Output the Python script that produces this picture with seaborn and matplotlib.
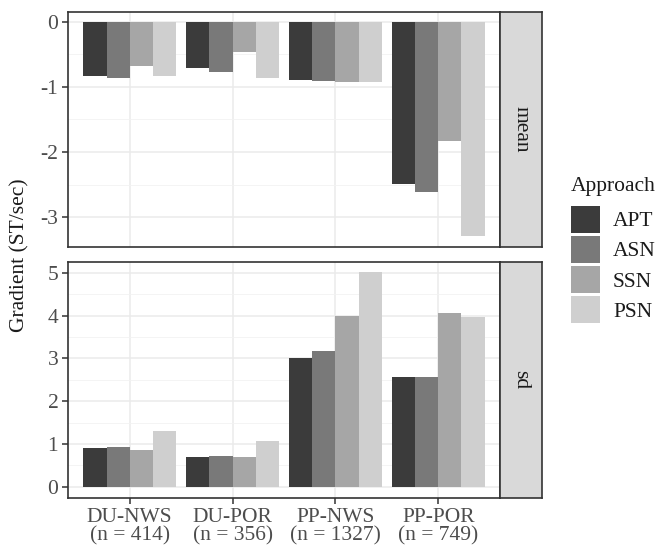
import numpy as np
import pandas as pd
import matplotlib.pyplot as plt
import seaborn as sns
from matplotlib.patches import Patch
from matplotlib.ticker import MultipleLocator

# values
sites = ['DU-NWS\n(n = 414)', 'DU-POR\n(n = 356)', 'PP-NWS\n(n = 1327)', 'PP-POR\n(n = 749)']
approaches = ['APT', 'ASN', 'SSN', 'PSN']
mean_vals = [[-0.84, -0.87, -0.68, -0.83],
             [-0.71, -0.77, -0.47, -0.87],
             [-0.89, -0.91, -0.92, -0.92],
             [-2.49, -2.61, -1.83, -3.29]]
sd_vals = [[0.90, 0.92, 0.87, 1.31],
           [0.70, 0.72, 0.69, 1.07],
           [3.00, 3.18, 3.99, 5.02],
           [2.56, 2.56, 4.07, 3.97]]
colors = ['#3b3b3b', '#797979', '#a6a6a6', '#cfcfcf']

def to_frame(vals):
    rows = []
    for s, row in zip(sites, vals):
        for a, v in zip(approaches, row):
            rows.append({'site': s, 'Approach': a, 'value': v})
    return pd.DataFrame(rows)

sns.set_style('white')
plt.rcParams['font.family'] = ['Liberation Serif', 'DejaVu Serif']
fs = 15.5
txt_col = '#4d4d4d'

fig = plt.figure(figsize=(6.57, 5.51), dpi=100)
W, H = 657, 551

def box(x0, y0, x1, y1):
    return [x0 / W, 1 - y1 / H, (x1 - x0) / W, (y1 - y0) / H]

ax_top = fig.add_axes(box(68, 12, 500, 247))
ax_bot = fig.add_axes(box(68, 262, 500, 498))
strip_top = fig.add_axes(box(500, 12, 542, 247))
strip_bot = fig.add_axes(box(500, 262, 542, 498))

panels = [(ax_top, mean_vals, (-3.46, 0.15), 'mean', strip_top),
          (ax_bot, sd_vals, (-0.26, 5.25), 'sd', strip_bot)]

for ax, vals, ylim, lab, strip in panels:
    df = to_frame(vals)
    sns.barplot(data=df, x='site', y='value', hue='Approach', hue_order=approaches,
                palette=colors, width=0.9, saturation=1, ax=ax, legend=False, zorder=2)
    for p in ax.patches:
        p.set_edgecolor('none')
    ax.set_xlim(-0.6, 3.6)
    ax.set_ylim(*ylim)
    ax.yaxis.set_major_locator(MultipleLocator(1))
    ax.yaxis.set_minor_locator(MultipleLocator(0.5))
    ax.grid(True, which='major', color='#ebebeb', lw=1.1, zorder=0)
    ax.grid(True, which='minor', axis='y', color='#f2f2f2', lw=0.6, zorder=0)
    ax.set_axisbelow(True)
    for sp in ax.spines.values():
        sp.set_color('#333333')
        sp.set_linewidth(1.2)
    ax.set_xlabel('')
    ax.set_ylabel('')
    ax.tick_params(axis='y', which='major', length=4, width=1.1, color='#333333',
                   labelcolor=txt_col, labelsize=fs, pad=3, left=True)
    ax.tick_params(axis='y', which='minor', length=0)
    ax.set_yticklabels([f'{t:g}' for t in ax.get_yticks()])

    strip.set_facecolor('#d9d9d9')
    strip.set_xticks([])
    strip.set_yticks([])
    for sp in strip.spines.values():
        sp.set_color('#333333')
        sp.set_linewidth(1.2)
    strip.text(0.5, 0.5, lab, rotation=-90, ha='center', va='center',
               fontsize=fs, color='#1a1a1a', transform=strip.transAxes)

ax_top.tick_params(axis='x', bottom=False, labelbottom=False)
ax_bot.tick_params(axis='x', length=4, width=1.1, color='#333333', labelcolor=txt_col,
                   labelsize=fs, bottom=True, pad=3)
ax_bot.set_xticks(range(len(sites)))
ax_bot.set_xticklabels(sites, linespacing=0.95)

fig.text(20 / W, 1 - 255 / H, 'Gradient (ST/sec)', rotation=90, ha='center', va='center',
         fontsize=fs, color='#1a1a1a')

handles = [Patch(facecolor=c, edgecolor='none', label=a) for a, c in zip(approaches, colors)]
leg = fig.legend(handles=handles, title='Approach', loc='upper left',
                 bbox_to_anchor=(571 / W, 1 - 177 / H), frameon=False,
                 borderpad=0, borderaxespad=0,
                 handlelength=1.35, handleheight=1.55, handletextpad=0.6, labelspacing=0.15,
                 fontsize=fs, title_fontsize=fs)
leg._legend_box.align = 'left'
leg._legend_box.sep = 7
for t in leg.get_texts():
    t.set_color('#1a1a1a')
leg.get_title().set_color('#1a1a1a')

fig.savefig('out.png', dpi=100)
